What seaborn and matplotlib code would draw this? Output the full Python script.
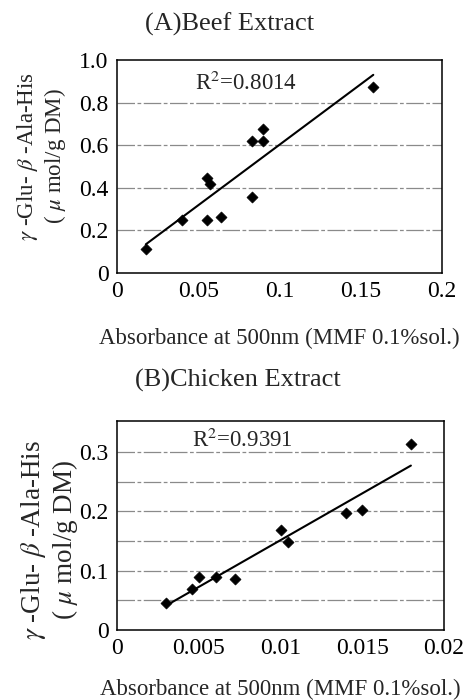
import numpy as np
import pandas as pd
import matplotlib
matplotlib.use('Agg')
import matplotlib.pyplot as plt
import seaborn as sns

# (A) Beef extract
beef_abs = [0.0177, 0.0402, 0.0552, 0.0572, 0.0552, 0.0638, 0.0829, 0.0900, 0.0900, 0.0829, 0.1577]
beef_dipep = [0.115, 0.250, 0.445, 0.417, 0.250, 0.261, 0.622, 0.675, 0.622, 0.355, 0.872]

# (B) Chicken extract
chicken_abs = [0.0030, 0.00457, 0.00502, 0.00604, 0.00724, 0.01001, 0.01048, 0.0140, 0.0150, 0.01798]
chicken_dipep = [0.046, 0.069, 0.0897, 0.0897, 0.0858, 0.1677, 0.1475, 0.197, 0.2013, 0.314]

beef = pd.DataFrame({'x': beef_abs, 'y': beef_dipep})
chicken = pd.DataFrame({'x': chicken_abs, 'y': chicken_dipep})

sns.set_theme(style='white')
plt.rcParams['font.family'] = ['Liberation Serif', 'DejaVu Serif']
plt.rcParams['mathtext.fontset'] = 'stix'

fig = plt.figure(figsize=(4.69, 7), dpi=100)
ax1 = fig.add_axes([0.2495, 0.610, 0.693, 0.304])
ax2 = fig.add_axes([0.2495, 0.100, 0.697, 0.2986])

ylab = '$\\gamma$ -Glu- $\\beta$ -Ala-His\n( $\\mu$ mol/g DM)'
xlab = 'Absorbance at 500nm (MMF 0.1%sol.)'


def draw_panel(ax, df, xlim, xticks, xticklabels, ylim, yticks, yticklabels,
               grid, r2, r2pos, xlab_y, ylab_xy, ylab_size):
    for g in grid:
        ax.axhline(g, color='#8a8a8a', lw=0.9, ls=(0, (14, 2, 3, 2)), zorder=0)
    sns.regplot(data=df, x='x', y='y', ax=ax, ci=None, scatter=False,
                line_kws={'color': 'black', 'lw': 1.5})
    sns.scatterplot(data=df, x='x', y='y', ax=ax, marker='D', s=32,
                    color='black', edgecolor='black', zorder=3)
    ax.set_xlim(*xlim)
    ax.set_ylim(*ylim)
    ax.set_xticks(xticks)
    ax.set_xticklabels(xticklabels)
    ax.set_yticks(yticks)
    ax.set_yticklabels(yticklabels)
    ax.tick_params(length=0, labelsize=17, pad=6, colors='black')
    for s in ax.spines.values():
        s.set_color('black')
        s.set_linewidth(1.1)
    ax.set_xlabel(xlab, fontsize=16.5)
    ax.xaxis.set_label_coords(0.5, xlab_y)
    ax.xaxis.label.set_va('baseline')
    ax.set_ylabel(ylab, fontsize=ylab_size, linespacing=1.1)
    ax.yaxis.set_label_coords(*ylab_xy)
    ax.yaxis.label.set_va('center')
    ax.text(r2pos[0], r2pos[1], r2, fontsize=16.5, ha='center', va='center')


draw_panel(ax1, beef, (0, 0.2), [0, 0.05, 0.1, 0.15, 0.2],
           ['0', '0.05', '0.1', '0.15', '0.2'],
           (0, 1.0), [0, 0.2, 0.4, 0.6, 0.8, 1.0],
           ['0', '0.2', '0.4', '0.6', '0.8', '1.0'],
           [0.2, 0.4, 0.6, 0.8], 'R$^2$=0.8014', (0.0794, 0.89),
           -0.336, (-0.232, 0.548), 16.5)

draw_panel(ax2, chicken, (0, 0.02), [0, 0.005, 0.01, 0.015, 0.02],
           ['0', '0.005', '0.01', '0.015', '0.02'],
           (0, 0.352), [0, 0.1, 0.2, 0.3],
           ['0', '0.1', '0.2', '0.3'],
           [0.05, 0.1, 0.15, 0.2, 0.25, 0.3], 'R$^2$=0.9391', (0.0077, 0.32),
           -0.3106, (-0.206, 0.43), 19.5)

fig.text(0.49, 0.966, '(A)Beef Extract', fontsize=19, ha='center', va='center')
fig.text(0.508, 0.456, '(B)Chicken Extract', fontsize=19, ha='center', va='center')

fig.savefig('out.png', dpi=100)
